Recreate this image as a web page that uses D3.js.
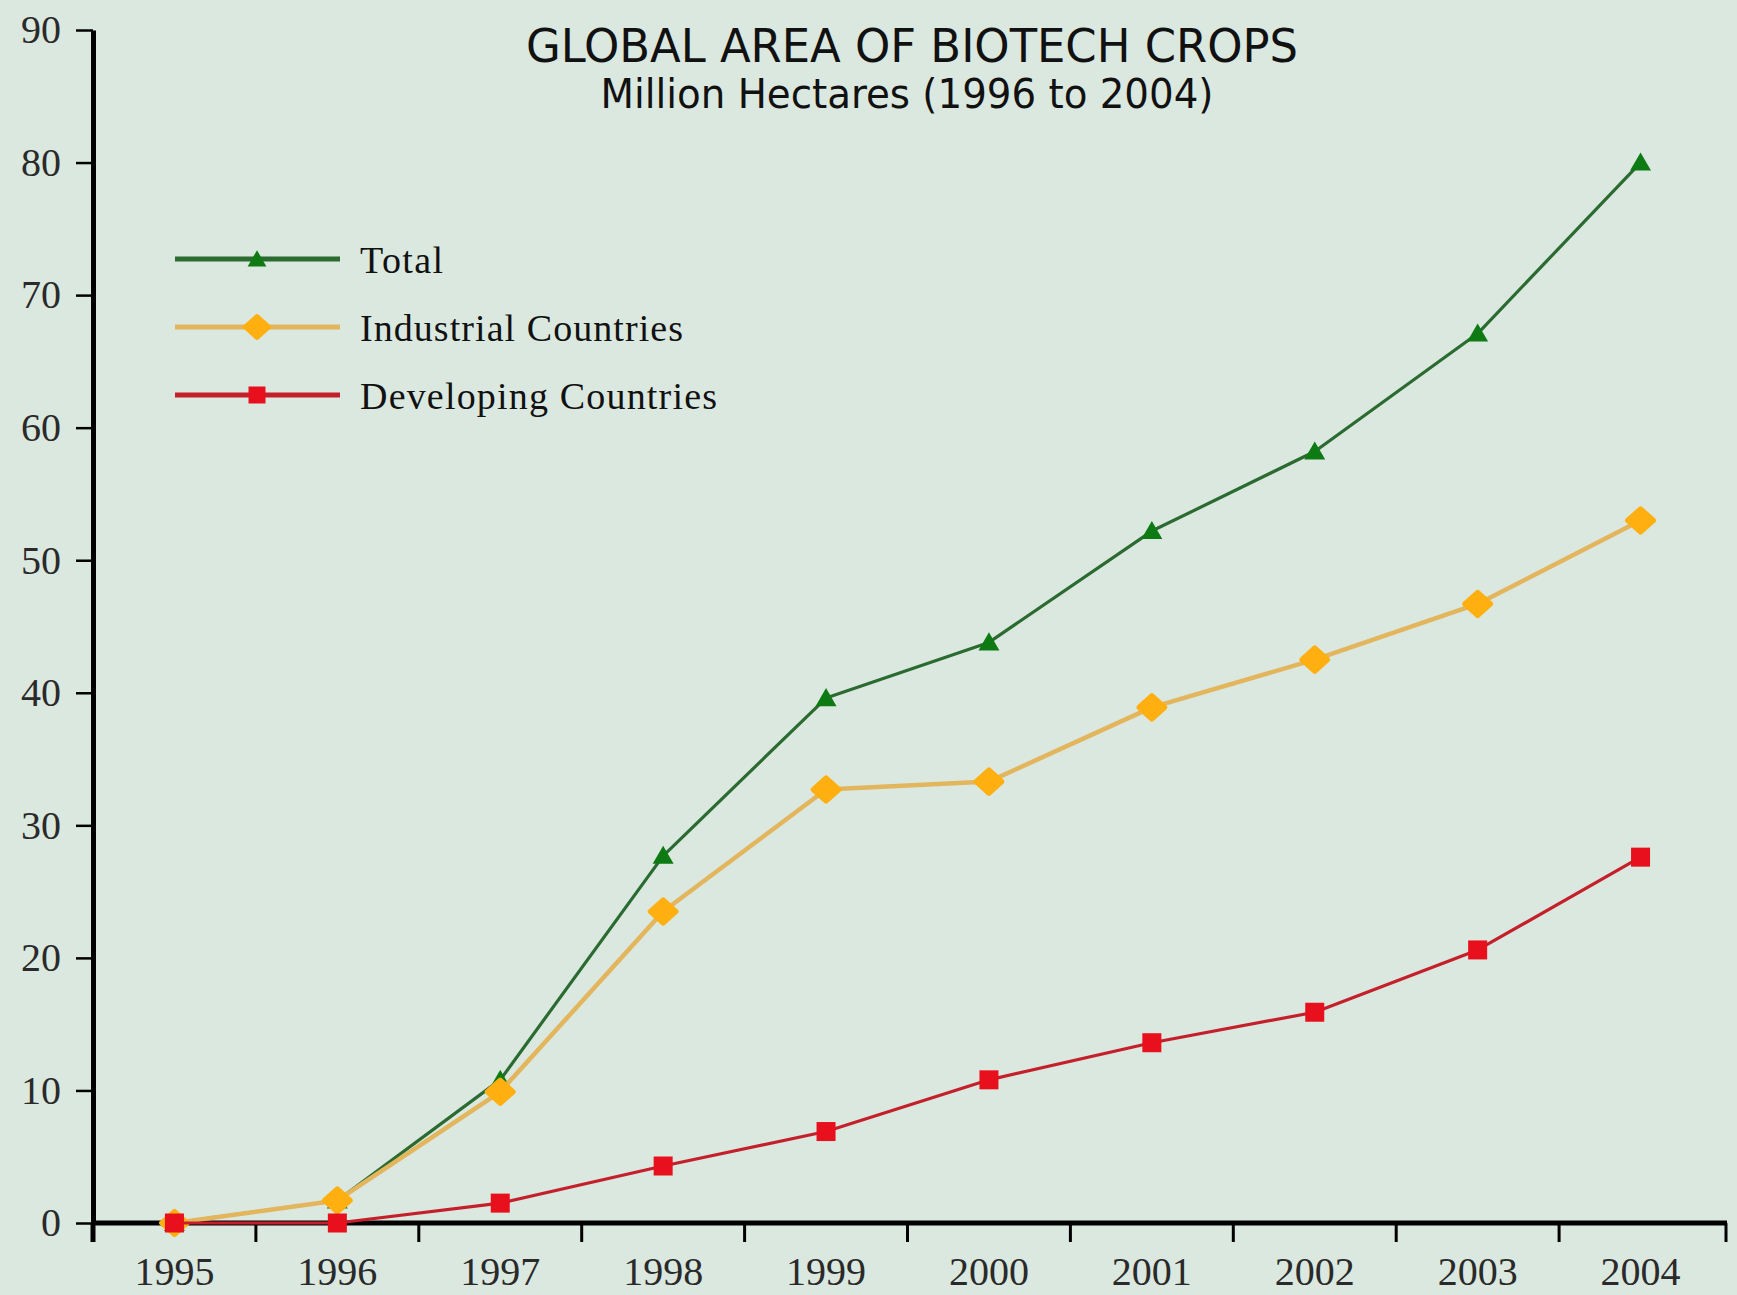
<!DOCTYPE html>
<html>
<head>
<meta charset="utf-8">
<script src="https://cdn.jsdelivr.net/npm/d3@7"></script>
<style>
  html, body { margin: 0; padding: 0; background: #dbe8df; }
  svg { display: block; }
</style>
</head>
<body>
<script>
// Global area of biotech crops, million hectares
const years = ["1995", "1996", "1997", "1998", "1999", "2000", "2001", "2002", "2003", "2004"];
const totalArea = [0, 1.7, 10.8, 27.7, 39.6, 43.8, 52.2, 58.2, 67.1, 80.0];
const industrialArea = [0, 1.7, 9.9, 23.5, 32.7, 33.3, 38.9, 42.5, 46.7, 53.0];
const developingArea = [0, 0, 1.5, 4.3, 6.9, 10.8, 13.6, 15.9, 20.6, 27.6];
const yTicks = [0, 10, 20, 30, 40, 50, 60, 70, 80, 90];
const seriesNames = ["Total", "Industrial Countries", "Developing Countries"];

const W = 1737, H = 1295;
const svg = d3.select("body").append("svg").attr("width", W).attr("height", H);
svg.append("rect").attr("width", W).attr("height", H).attr("fill", "#dbe8df");

const x = d3.scaleBand().domain(years).range([93, 1722]);
const y = d3.scaleLinear().domain([0, 90]).range([1223, 30]);

// marker shapes
const diamondPath = s => `M${-s},0L0,${-s * 0.9}L${s},0L0,${s * 0.9}Z`;
const series = [
  { name: seriesNames[0], values: totalArea, line: "#2b6b31", lw: 3.2, fill: "#0d7a14",
    shape: (g, k) => g.append("path").attr("d", d3.symbol(d3.symbolTriangle, 190 * k)()).attr("transform", "translate(0,2)") },
  { name: seriesNames[1], values: industrialArea, line: "#e3b55c", lw: 4.5, fill: "#ffb010",
    shape: (g, k) => g.append("path").attr("d", diamondPath(13 * Math.sqrt(k))).attr("stroke", "#ffb010").attr("stroke-width", 5).attr("stroke-linejoin", "round") },
  { name: seriesNames[2], values: developingArea, line: "#c4202c", lw: 3.2, fill: "#e8101c",
    shape: (g, k) => { const h = 9.5 * Math.sqrt(k); g.append("rect").attr("x", -h).attr("y", -h).attr("width", 2 * h).attr("height", 2 * h); } }
];

// title
const titleFont = "'Liberation Sans Narrow', 'DejaVu Sans Condensed', 'Liberation Sans', sans-serif";
svg.append("text")
  .attr("x", 912).attr("y", 62)
  .attr("text-anchor", "middle")
  .attr("font-family", titleFont)
  .attr("font-size", 46)
  .attr("fill", "#111")
  .attr("textLength", 772).attr("lengthAdjust", "spacingAndGlyphs")
  .text("GLOBAL AREA OF BIOTECH CROPS");
svg.append("text")
  .attr("x", 907).attr("y", 108)
  .attr("text-anchor", "middle")
  .attr("font-family", titleFont)
  .attr("font-size", 40)
  .attr("fill", "#111")
  .attr("textLength", 613).attr("lengthAdjust", "spacingAndGlyphs")
  .text("Million Hectares (1996 to 2004)");

// y axis
const yAxis = svg.append("g")
  .attr("transform", "translate(93,0)")
  .call(d3.axisLeft(y).tickValues(yTicks).tickSize(17).tickSizeOuter(0).tickPadding(15));
yAxis.select(".domain").attr("stroke", "#000").attr("stroke-width", 5);
yAxis.selectAll(".tick line").attr("stroke", "#000").attr("stroke-width", 2.5);
yAxis.selectAll(".tick text")
  .attr("font-family", "'Liberation Serif', 'DejaVu Serif', serif")
  .attr("font-size", 40).attr("fill", "#2a2a2a");
svg.append("line").attr("x1", 93).attr("x2", 93).attr("y1", 1223).attr("y2", 1242)
  .attr("stroke", "#000").attr("stroke-width", 5);

// x axis with labels at band centres and ticks at band edges
const xAxis = svg.append("g")
  .attr("transform", "translate(0,1223)")
  .call(d3.axisBottom(x).tickSize(0).tickSizeOuter(0));
xAxis.select(".domain").remove();
svg.append("line").attr("x1", 91).attr("x2", 1727).attr("y1", 1223).attr("y2", 1223)
  .attr("stroke", "#000").attr("stroke-width", 5);
xAxis.selectAll(".tick text")
  .attr("y", 62).attr("dy", 0)
  .attr("font-family", "'Liberation Serif', 'DejaVu Serif', serif")
  .attr("font-size", 40).attr("fill", "#2a2a2a");
svg.append("g").selectAll("line").data(years).join("line")
  .attr("x1", (d, i) => i === years.length - 1 ? 1726 : x(d) + x.bandwidth())
  .attr("x2", (d, i) => i === years.length - 1 ? 1726 : x(d) + x.bandwidth())
  .attr("y1", 1223).attr("y2", 1242)
  .attr("stroke", "#000").attr("stroke-width", 3);

// series lines and markers
const line = d3.line().x((d, i) => x(years[i]) + x.bandwidth() / 2).y(d => y(d));
series.forEach(s => {
  const g = svg.append("g");
  g.append("path").datum(s.values)
    .attr("d", line)
    .attr("fill", "none")
    .attr("stroke", s.line)
    .attr("stroke-width", s.lw)
    .attr("stroke-linejoin", "round");
  s.values.forEach((v, i) => {
    const m = g.append("g")
      .attr("transform", `translate(${x(years[i]) + x.bandwidth() / 2},${y(v)})`)
      .attr("fill", s.fill);
    s.shape(m, 1);
  });
});

// legend
const legend = svg.append("g");
const legendRows = [259, 327, 395];
const legendWidths = [83, 323, 357];
series.forEach((s, i) => {
  const row = legend.append("g").attr("transform", `translate(0,${legendRows[i]})`);
  row.append("line").attr("x1", 175).attr("x2", 340).attr("y1", 0).attr("y2", 0)
    .attr("stroke", s.line).attr("stroke-width", 5);
  const m = row.append("g").attr("transform", "translate(257,0)").attr("fill", s.fill);
  s.shape(m, 0.8);
  row.append("text")
    .attr("x", 360).attr("y", 14)
    .attr("font-family", "'Liberation Serif', 'DejaVu Serif', serif")
    .attr("font-size", 38).attr("fill", "#111")
    .attr("textLength", legendWidths[i]).attr("lengthAdjust", "spacing")
    .text(s.name);
});
</script>
</body>
</html>
